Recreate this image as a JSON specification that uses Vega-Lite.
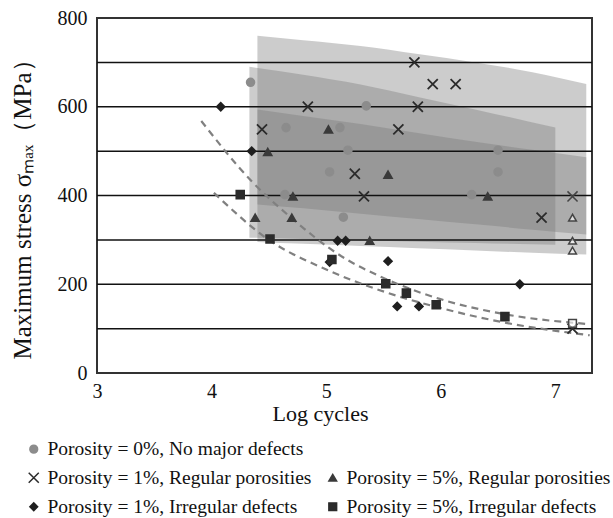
{
  "$schema": "https://vega.github.io/schema/vega-lite/v6.json",
  "width": 495,
  "height": 355,
  "autosize": {"type": "none"},
  "padding": {"left": 97, "top": 18, "right": 21, "bottom": 145},
  "background": "white",
  "config": {
    "view": {"stroke": "#333333", "strokeWidth": 2},
    "font": "Liberation Serif"
  },
  "datasets": {
    "bands": [
      {"band": "A", "x": 4.40, "lo": 380, "hi": 760},
      {"band": "A", "x": 4.80, "lo": 371, "hi": 750},
      {"band": "A", "x": 5.30, "lo": 359, "hi": 737},
      {"band": "A", "x": 5.80, "lo": 347, "hi": 719},
      {"band": "A", "x": 6.30, "lo": 335, "hi": 700},
      {"band": "A", "x": 6.80, "lo": 323, "hi": 678},
      {"band": "A", "x": 7.27, "lo": 312, "hi": 651},
      {"band": "B", "x": 4.33, "lo": 305, "hi": 690},
      {"band": "B", "x": 4.80, "lo": 302, "hi": 672},
      {"band": "B", "x": 5.30, "lo": 299, "hi": 650},
      {"band": "B", "x": 5.80, "lo": 296, "hi": 622},
      {"band": "B", "x": 6.30, "lo": 293, "hi": 594},
      {"band": "B", "x": 7.00, "lo": 289, "hi": 553},
      {"band": "C", "x": 4.40, "lo": 295, "hi": 594},
      {"band": "C", "x": 4.80, "lo": 291, "hi": 579},
      {"band": "C", "x": 5.30, "lo": 286, "hi": 561},
      {"band": "C", "x": 5.80, "lo": 281, "hi": 541},
      {"band": "C", "x": 6.30, "lo": 276, "hi": 521},
      {"band": "C", "x": 6.80, "lo": 271, "hi": 503},
      {"band": "C", "x": 7.27, "lo": 267, "hi": 486}
    ],
    "grid": [
      {"stress": 100}, {"stress": 200}, {"stress": 300}, {"stress": 400},
      {"stress": 500}, {"stress": 600}, {"stress": 700}
    ],
    "curves": [
      {"curve": "upper", "x": 3.91, "y": 568},
      {"curve": "upper", "x": 4.35, "y": 432},
      {"curve": "upper", "x": 4.68, "y": 353},
      {"curve": "upper", "x": 5.14, "y": 262},
      {"curve": "upper", "x": 5.52, "y": 212},
      {"curve": "upper", "x": 5.99, "y": 167},
      {"curve": "upper", "x": 6.57, "y": 132},
      {"curve": "upper", "x": 7.30, "y": 110},
      {"curve": "lower", "x": 4.02, "y": 406},
      {"curve": "lower", "x": 4.50, "y": 300},
      {"curve": "lower", "x": 5.03, "y": 230},
      {"curve": "lower", "x": 5.52, "y": 182},
      {"curve": "lower", "x": 5.99, "y": 147},
      {"curve": "lower", "x": 6.57, "y": 113},
      {"curve": "lower", "x": 7.30, "y": 85}
    ],
    "points": [
      {"series": "Porosity = 0%, No major defects", "x": 4.34, "y": 655},
      {"series": "Porosity = 0%, No major defects", "x": 5.35, "y": 602},
      {"series": "Porosity = 0%, No major defects", "x": 4.65, "y": 553},
      {"series": "Porosity = 0%, No major defects", "x": 5.12, "y": 553},
      {"series": "Porosity = 0%, No major defects", "x": 5.19, "y": 502},
      {"series": "Porosity = 0%, No major defects", "x": 6.50, "y": 502},
      {"series": "Porosity = 0%, No major defects", "x": 5.03, "y": 453},
      {"series": "Porosity = 0%, No major defects", "x": 6.50, "y": 453},
      {"series": "Porosity = 0%, No major defects", "x": 4.64, "y": 402},
      {"series": "Porosity = 0%, No major defects", "x": 6.27, "y": 402},
      {"series": "Porosity = 0%, No major defects", "x": 5.15, "y": 351},
      {"series": "Porosity = 1%, Regular porosities", "x": 5.77, "y": 700},
      {"series": "Porosity = 1%, Regular porosities", "x": 5.93, "y": 651},
      {"series": "Porosity = 1%, Regular porosities", "x": 6.13, "y": 651},
      {"series": "Porosity = 1%, Regular porosities", "x": 4.84, "y": 600},
      {"series": "Porosity = 1%, Regular porosities", "x": 5.80, "y": 600},
      {"series": "Porosity = 1%, Regular porosities", "x": 4.44, "y": 549},
      {"series": "Porosity = 1%, Regular porosities", "x": 5.63, "y": 549},
      {"series": "Porosity = 1%, Regular porosities", "x": 5.25, "y": 449},
      {"series": "Porosity = 1%, Regular porosities", "x": 5.33, "y": 398},
      {"series": "Porosity = 1%, Regular porosities", "x": 6.88, "y": 350},
      {"series": "Porosity = 1%, Regular porosities", "x": 7.15, "y": 100},
      {"series": "Porosity = 5%, Regular porosities", "x": 5.02, "y": 549},
      {"series": "Porosity = 5%, Regular porosities", "x": 4.49, "y": 498},
      {"series": "Porosity = 5%, Regular porosities", "x": 5.54, "y": 447},
      {"series": "Porosity = 5%, Regular porosities", "x": 4.71, "y": 398},
      {"series": "Porosity = 5%, Regular porosities", "x": 6.41, "y": 398},
      {"series": "Porosity = 5%, Regular porosities", "x": 4.38, "y": 350},
      {"series": "Porosity = 5%, Regular porosities", "x": 4.70, "y": 350},
      {"series": "Porosity = 5%, Regular porosities", "x": 5.38, "y": 298},
      {"series": "Porosity = 1%, Irregular defects", "x": 4.08, "y": 600},
      {"series": "Porosity = 1%, Irregular defects", "x": 4.35, "y": 500},
      {"series": "Porosity = 1%, Irregular defects", "x": 5.10, "y": 298},
      {"series": "Porosity = 1%, Irregular defects", "x": 5.17, "y": 298},
      {"series": "Porosity = 1%, Irregular defects", "x": 5.03, "y": 250},
      {"series": "Porosity = 1%, Irregular defects", "x": 5.54, "y": 252},
      {"series": "Porosity = 1%, Irregular defects", "x": 6.69, "y": 200},
      {"series": "Porosity = 1%, Irregular defects", "x": 5.62, "y": 150},
      {"series": "Porosity = 1%, Irregular defects", "x": 5.81, "y": 150},
      {"series": "Porosity = 5%, Irregular defects", "x": 4.25, "y": 402},
      {"series": "Porosity = 5%, Irregular defects", "x": 4.51, "y": 302},
      {"series": "Porosity = 5%, Irregular defects", "x": 5.05, "y": 256},
      {"series": "Porosity = 5%, Irregular defects", "x": 5.52, "y": 201},
      {"series": "Porosity = 5%, Irregular defects", "x": 5.70, "y": 180},
      {"series": "Porosity = 5%, Irregular defects", "x": 5.96, "y": 154},
      {"series": "Porosity = 5%, Irregular defects", "x": 6.56, "y": 127}
    ],
    "runouts": [
      {"series": "Porosity = 1%, Regular porosities", "x": 7.15, "y": 398},
      {"series": "Porosity = 5%, Regular porosities", "x": 7.15, "y": 350},
      {"series": "Porosity = 5%, Regular porosities", "x": 7.15, "y": 298},
      {"series": "Porosity = 5%, Regular porosities", "x": 7.15, "y": 276},
      {"series": "Porosity = 5%, Irregular defects", "x": 7.15, "y": 112}
    ]
  },
  "layer": [
    {
      "data": {"name": "bands"},
      "mark": {"type": "area", "interpolate": "monotone", "fill": "#7a7a7a", "fillOpacity": 0.38, "stroke": null},
      "encoding": {
        "x": {"field": "x", "type": "quantitative", "scale": {"domain": [3, 7.32], "nice": false, "zero": false},
          "axis": {"values": [3, 4, 5, 6, 7], "format": "d", "labelFlush": false, "ticks": false, "domain": false, "grid": false, "labelFont": "Liberation Serif", "labelFontSize": 20, "labelColor": "#111", "labelPadding": 8,
            "title": "Log cycles", "titleFont": "Liberation Serif", "titleFontSize": 22, "titleFontWeight": "normal", "titleColor": "#111", "titleX": 223, "titleY": 40, "titleBaseline": "middle", "titleAlign": "center"}},
        "y": {"field": "lo", "type": "quantitative", "scale": {"domain": [0, 800], "nice": false},
          "axis": {"values": [0, 200, 400, 600, 800], "labelFlush": false, "ticks": false, "domain": false, "grid": false, "labelFont": "Liberation Serif", "labelFontSize": 20, "labelColor": "#111", "labelPadding": 10,
            "title": "Maximum stress σₘₐₓ（MPa）", "titleFont": "Liberation Serif", "titleFontSize": 25, "titleFontWeight": "normal", "titleColor": "#111", "titleX": -75, "titleY": 185, "titleAngle": -90, "titleBaseline": "middle", "titleAlign": "center"}},
        "y2": {"field": "hi"},
        "detail": {"field": "band"}
      }
    },
    {
      "data": {"name": "grid"},
      "mark": {"type": "rule", "color": "#111111", "strokeWidth": 1.5},
      "encoding": {"y": {"field": "stress", "type": "quantitative"}}
    },
    {
      "data": {"name": "curves"},
      "mark": {"type": "line", "interpolate": "monotone", "color": "#808080", "strokeWidth": 2.2, "strokeDash": [7, 5]},
      "encoding": {
        "x": {"field": "x", "type": "quantitative"},
        "y": {"field": "y", "type": "quantitative"},
        "detail": {"field": "curve"}
      }
    },
    {
      "data": {"name": "points"},
      "mark": {"type": "point", "filled": true, "size": 60, "strokeWidth": 1.8, "opacity": 1},
      "encoding": {
        "x": {"field": "x", "type": "quantitative"},
        "y": {"field": "y", "type": "quantitative"},
        "color": {"field": "series", "type": "nominal",
          "scale": {"domain": ["Porosity = 0%, No major defects", "Porosity = 1%, Regular porosities", "Porosity = 1%, Irregular defects", " ", "Porosity = 5%, Regular porosities", "Porosity = 5%, Irregular defects"],
            "range": ["#8c8c8c", "#2b2b2b", "#1f1f1f", "#ffffff", "#3a3a3a", "#2b2b2b"]},
          "legend": {"orient": "none", "legendX": -73, "legendY": 421, "columns": 2, "title": null, "labelFont": "Liberation Serif", "labelFontSize": 19.5, "labelColor": "#111", "symbolSize": 60, "labelOffset": 4, "rowPadding": 8, "columnPadding": 11, "labelLimit": 400, "symbolStrokeWidth": 1.5, "padding": 0}},
        "stroke": {"field": "series", "type": "nominal",
          "scale": {"domain": ["Porosity = 0%, No major defects", "Porosity = 1%, Regular porosities", "Porosity = 1%, Irregular defects", " ", "Porosity = 5%, Regular porosities", "Porosity = 5%, Irregular defects"],
            "range": ["#8c8c8c", "#2b2b2b", "#1f1f1f", "#ffffff", "#3a3a3a", "#2b2b2b"]},
          "legend": {"orient": "none", "legendX": -73, "legendY": 421, "columns": 2, "title": null, "labelFont": "Liberation Serif", "labelFontSize": 19.5, "labelColor": "#111", "symbolSize": 60, "labelOffset": 4, "rowPadding": 8, "columnPadding": 11, "labelLimit": 400, "symbolStrokeWidth": 1.5, "padding": 0}},
        "shape": {"field": "series", "type": "nominal",
          "scale": {"domain": ["Porosity = 0%, No major defects", "Porosity = 1%, Regular porosities", "Porosity = 1%, Irregular defects", " ", "Porosity = 5%, Regular porosities", "Porosity = 5%, Irregular defects"],
            "range": ["circle", "M-1.3,-1.3L1.3,1.3M1.3,-1.3L-1.3,1.3", "diamond", "M0,0", "triangle-up", "square"]},
          "legend": {"orient": "none", "legendX": -73, "legendY": 421, "columns": 2, "title": null, "labelFont": "Liberation Serif", "labelFontSize": 19.5, "labelColor": "#111", "symbolSize": 60, "labelOffset": 4, "rowPadding": 8, "columnPadding": 11, "labelLimit": 400, "symbolStrokeWidth": 1.5, "padding": 0}}
      }
    },
    {
      "data": {"name": "runouts"},
      "mark": {"type": "point", "filled": false, "size": 60, "strokeWidth": 1.5, "stroke": "#444444", "fill": "#ffffff", "fillOpacity": 0.6},
      "encoding": {
        "x": {"field": "x", "type": "quantitative"},
        "y": {"field": "y", "type": "quantitative"},
        "shape": {"field": "series", "type": "nominal"}
      }
    }
  ]
}
